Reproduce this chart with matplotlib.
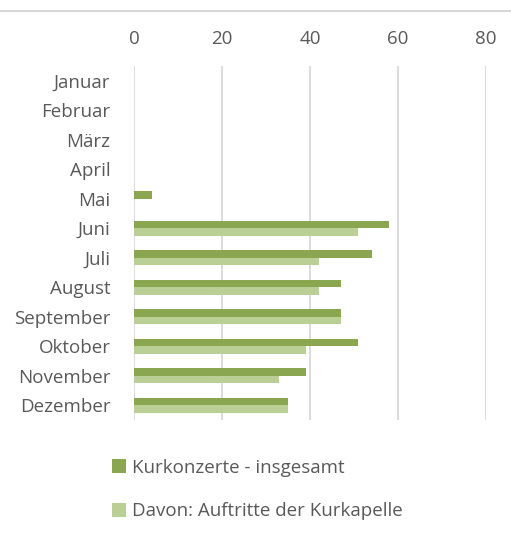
import matplotlib.pyplot as plt
import matplotlib.lines as mlines
import numpy as np

months = ['Januar', 'Februar', 'März', 'April', 'Mai', 'Juni', 'Juli',
          'August', 'September', 'Oktober', 'November', 'Dezember']
total = [0, 0, 0, 0, 4, 58, 54, 47, 47, 51, 39, 35]
kurkapelle = [0, 0, 0, 0, 0, 51, 42, 42, 47, 39, 33, 35]
ticks = [0, 20, 40, 60, 80]

dark_green = '#8BA650'
light_green = '#B9CF96'
text_color = '#595959'
grid_color = '#D9D9D9'

plt.rcParams['font.family'] = ['Open Sans', 'DejaVu Sans']

W, H = 511, 536
fig = plt.figure(figsize=(W / 100, H / 100), dpi=100)
ax = fig.add_axes([134 / W, 1 - 420 / H, 352 / W, 354 / H])

y = np.arange(len(months))
h = 0.25
ax.barh(y - h / 2, total, height=h, color=dark_green, label='Kurkonzerte - insgesamt', zorder=3)
ax.barh(y + h / 2, kurkapelle, height=h, color=light_green, label='Davon: Auftritte der Kurkapelle', zorder=3)

ax.set_xlim(0, 80)
ax.set_ylim(len(months) - 0.5, -0.5)
ax.set_yticks(y)
ax.set_yticklabels(months)
ax.set_xticks(ticks)
ax.xaxis.tick_top()
ax.tick_params(axis='both', length=0, labelsize=13.5, colors=text_color)
ax.tick_params(axis='x', pad=13)
ax.tick_params(axis='y', pad=17)
ax.grid(axis='x', color=grid_color, lw=1.3, zorder=0)
for s in ax.spines.values():
    s.set_visible(False)

# thin border line at the top of the picture
fig.add_artist(mlines.Line2D([0, 1], [1 - 11 / H, 1 - 11 / H], color=grid_color, lw=1.5))

fig.legend(loc='upper left', bbox_to_anchor=(95 / W, 1 - 442 / H), frameon=False,
           fontsize=13.5, labelcolor=text_color, handlelength=0.75, handleheight=0.75,
           handletextpad=0.3, labelspacing=1.35)

fig.savefig('out.png', dpi=100)
